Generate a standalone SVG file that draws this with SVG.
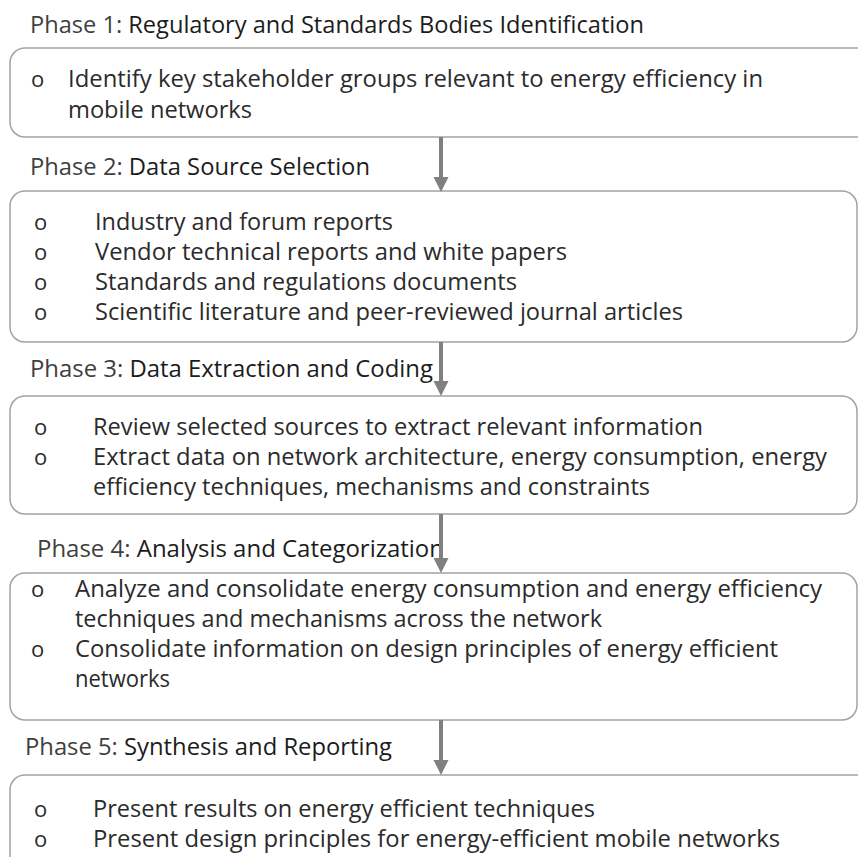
<svg xmlns="http://www.w3.org/2000/svg" width="858" height="857" viewBox="0 0 858 857">
<style>
  .box { fill: #ffffff; stroke: #a3a3a3; stroke-width: 1.5; }
  .h { font-family: "Open Sans", "Noto Sans", sans-serif; font-size: 24px; fill: #1c1c1c; }
  .hp { fill: #3f3f3f; }
  .t { font-family: "Open Sans", "Noto Sans", sans-serif; font-size: 24px; fill: #2b2b2b; }
  .b { font-family: "Open Sans", "Noto Sans", sans-serif; font-size: 22px; fill: #2b2b2b; }
  .conn { stroke: #808080; stroke-width: 4; fill: none; marker-end: url(#ah); }
</style>
<defs>
  <marker id="ah" markerUnits="userSpaceOnUse" markerWidth="16" markerHeight="16" refX="0" refY="7.5" orient="auto">
    <path d="M0,0 L15,7.5 L0,15 Z" fill="#808080"/>
  </marker>
</defs>
<rect width="858" height="857" fill="#ffffff"/>

<g id="phase1">
  <text class="h" x="30" y="33" textLength="614" lengthAdjust="spacingAndGlyphs"><tspan class="hp">Phase 1: </tspan>Regulatory and Standards Bodies Identification</text>
  <rect class="box" x="10" y="48" width="880" height="89" rx="15"/>
  <text class="b" x="31" y="87">o</text>
  <text class="t" x="68" y="87" textLength="695" lengthAdjust="spacingAndGlyphs">Identify key stakeholder groups relevant to energy efficiency in</text>
  <text class="t" x="68" y="118" textLength="184" lengthAdjust="spacingAndGlyphs">mobile networks</text>
</g>

<g id="phase2">
  <text class="h" x="30" y="175" textLength="340" lengthAdjust="spacingAndGlyphs"><tspan class="hp">Phase 2: </tspan>Data Source Selection</text>
  <rect class="box" x="10" y="191" width="847" height="151" rx="15"/>
  <text class="b" x="34" y="230">o</text>
  <text class="t" x="95" y="230" textLength="298" lengthAdjust="spacingAndGlyphs">Industry and forum reports</text>
  <text class="b" x="34" y="260">o</text>
  <text class="t" x="95" y="260" textLength="472" lengthAdjust="spacingAndGlyphs">Vendor technical reports and white papers</text>
  <text class="b" x="34" y="290">o</text>
  <text class="t" x="95" y="290" textLength="422" lengthAdjust="spacingAndGlyphs">Standards and regulations documents</text>
  <text class="b" x="34" y="320">o</text>
  <text class="t" x="95" y="320" textLength="588" lengthAdjust="spacingAndGlyphs">Scientific literature and peer-reviewed journal articles</text>
</g>

<g id="phase3">
  <text class="h" x="30" y="377" textLength="403" lengthAdjust="spacingAndGlyphs"><tspan class="hp">Phase 3: </tspan>Data Extraction and Coding</text>
  <rect class="box" x="10" y="396" width="847" height="118" rx="15"/>
  <text class="b" x="34" y="435">o</text>
  <text class="t" x="93" y="435" textLength="610" lengthAdjust="spacingAndGlyphs">Review selected sources to extract relevant information</text>
  <text class="b" x="34" y="465">o</text>
  <text class="t" x="93" y="465" textLength="734" lengthAdjust="spacingAndGlyphs">Extract data on network architecture, energy consumption, energy</text>
  <text class="t" x="93" y="495" textLength="557" lengthAdjust="spacingAndGlyphs">efficiency techniques, mechanisms and constraints</text>
</g>

<g id="phase4">
  <text class="h" x="37" y="557" textLength="407" lengthAdjust="spacingAndGlyphs"><tspan class="hp">Phase 4: </tspan>Analysis and Categorization</text>
  <rect class="box" x="10" y="573" width="847" height="147" rx="15"/>
  <text class="b" x="31" y="597">o</text>
  <text class="t" x="75" y="597" textLength="747" lengthAdjust="spacingAndGlyphs">Analyze and consolidate energy consumption and energy efficiency</text>
  <text class="t" x="75" y="627" textLength="527" lengthAdjust="spacingAndGlyphs">techniques and mechanisms across the network</text>
  <text class="b" x="31" y="657">o</text>
  <text class="t" x="75" y="657" textLength="703" lengthAdjust="spacingAndGlyphs">Consolidate information on design principles of energy efficient</text>
  <text class="t" x="75" y="687" textLength="95" lengthAdjust="spacingAndGlyphs">networks</text>
</g>

<g id="phase5">
  <text class="h" x="25" y="755" textLength="367" lengthAdjust="spacingAndGlyphs"><tspan class="hp">Phase 5: </tspan>Synthesis and Reporting</text>
  <rect class="box" x="10" y="775" width="880" height="140" rx="15"/>
  <text class="b" x="34" y="817">o</text>
  <text class="t" x="93" y="817" textLength="502" lengthAdjust="spacingAndGlyphs">Present results on energy efficient techniques</text>
  <text class="b" x="34" y="847">o</text>
  <text class="t" x="93" y="847" textLength="687" lengthAdjust="spacingAndGlyphs">Present design principles for energy-efficient mobile networks</text>
</g>

<g id="connectors">
  <line class="conn" x1="441" y1="137" x2="441" y2="177"/>
  <line class="conn" x1="441" y1="342" x2="441" y2="381"/>
  <line class="conn" x1="441" y1="514" x2="441" y2="558"/>
  <line class="conn" x1="441" y1="720" x2="441" y2="760"/>
</g>
</svg>
